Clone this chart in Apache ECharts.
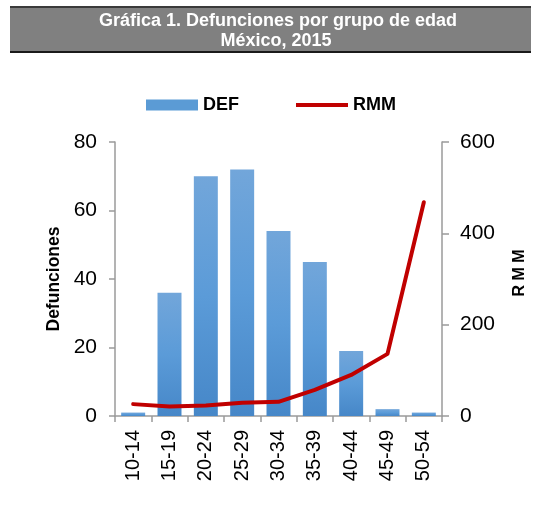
<!DOCTYPE html>
<html>
<head>
<meta charset="utf-8">
<script src="https://cdn.jsdelivr.net/npm/echarts@6/dist/echarts.min.js"></script>
<style>html,body{margin:0;padding:0;background:#fff}#c{width:533px;height:521px}</style>
</head>
<body>
<div id="c"></div>
<script>
const categories = ['10-14','15-19','20-24','25-29','30-34','35-39','40-44','45-49','50-54'];
const defValues = [1, 36, 70, 72, 54, 45, 19, 2, 1];
const rmmValues = [26, 21, 23, 29, 31, 57, 90, 136, 468];
const leftTicks = [0, 20, 40, 60, 80];
const rightTicks = [0, 200, 400, 600];
const titleLines = ['Gráfica 1. Defunciones por grupo de edad', 'México, 2015'];

const chart = echarts.init(document.getElementById('c'), null, {renderer: 'canvas'});
const F = 'Arial, "Liberation Sans", sans-serif';
const axisGray = '#9a9a9a';

chart.setOption({
  animation: false,
  backgroundColor: '#fff',
  graphic: [
    {type: 'rect', shape: {x: 10, y: 6, width: 521, height: 47}, style: {fill: '#808080'}, z: 0},
    {type: 'rect', shape: {x: 10, y: 6, width: 521, height: 2}, style: {fill: '#3a3a3a'}, z: 1},
    {type: 'rect', shape: {x: 10, y: 51, width: 521, height: 2}, style: {fill: '#1a1a1a'}, z: 1},
    {type: 'text', x: 278, y: 21, z: 2, style: {text: titleLines[0], fill: '#fff', font: 'bold 18px ' + F, align: 'center', verticalAlign: 'middle'}},
    {type: 'text', x: 276, y: 41, z: 2, style: {text: titleLines[1], fill: '#fff', font: 'bold 18px ' + F, align: 'center', verticalAlign: 'middle'}},
    {type: 'text', x: 520, y: 273, rotation: Math.PI / 2, z: 2, style: {text: 'R M M', fill: '#000', font: 'bold 16px ' + F, align: 'center', verticalAlign: 'middle'}}
  ],
  legend: {
    top: 91, left: 141,
    itemGap: 57,
    itemWidth: 52, itemHeight: 11,
    textStyle: {fontFamily: F, fontWeight: 'bold', fontSize: 18, color: '#000'},
    data: [
      {name: 'DEF', icon: 'rect', itemStyle: {color: '#5b9bd5'}},
      {name: 'RMM', icon: 'path://M0,4 L52,4 L52,8 L0,8 Z', itemStyle: {color: '#c00000'}}
    ]
  },
  grid: {left: 115, right: 91, top: 142, bottom: 105, containLabel: false},
  xAxis: {
    type: 'category',
    data: categories,
    boundaryGap: true,
    axisLine: {lineStyle: {color: axisGray, width: 1.5}},
    axisTick: {show: true, length: 6, alignWithLabel: false, lineStyle: {color: axisGray, width: 1.5}},
    axisLabel: {rotate: 90, fontFamily: F, fontSize: 20, color: '#000', margin: 14, interval: 0}
  },
  yAxis: [
    {
      type: 'value', min: 0, max: 80, interval: 20,
      name: 'Defunciones', nameLocation: 'middle', nameGap: 52, nameRotate: 90,
      nameTextStyle: {fontFamily: F, fontWeight: 'bold', fontSize: 17.5, color: '#000'},
      axisLine: {show: true, lineStyle: {color: axisGray, width: 1.5}},
      axisTick: {show: true, length: 6, lineStyle: {color: axisGray, width: 1.5}},
      splitLine: {show: false},
      axisLabel: {fontFamily: F, fontSize: 21, color: '#000', margin: 18,
        formatter: v => leftTicks.includes(v) ? String(v) : ''}
    },
    {
      type: 'value', min: 0, max: 600, interval: 200, position: 'right',
      axisLine: {show: true, lineStyle: {color: axisGray, width: 1.5}},
      axisTick: {show: true, length: 7, lineStyle: {color: axisGray, width: 1.5}},
      splitLine: {show: false},
      axisLabel: {fontFamily: F, fontSize: 21, color: '#000', margin: 18,
        formatter: v => rightTicks.includes(v) ? String(v) : ''}
    }
  ],
  series: [
    {
      name: 'DEF', type: 'bar', yAxisIndex: 0, data: defValues,
      barCategoryGap: '34%',
      itemStyle: {color: new echarts.graphic.LinearGradient(0, 0, 0, 1, [
        {offset: 0, color: '#72a6da'},
        {offset: 0.5, color: '#5b9bd8'},
        {offset: 1, color: '#4687c8'}
      ])}
    },
    {
      name: 'RMM', type: 'line', yAxisIndex: 1, data: rmmValues,
      symbol: 'none', smooth: false,
      lineStyle: {color: '#c00000', width: 4, cap: 'round', join: 'round'},
      itemStyle: {color: '#c00000'}
    }
  ]
});
</script>
</body>
</html>
